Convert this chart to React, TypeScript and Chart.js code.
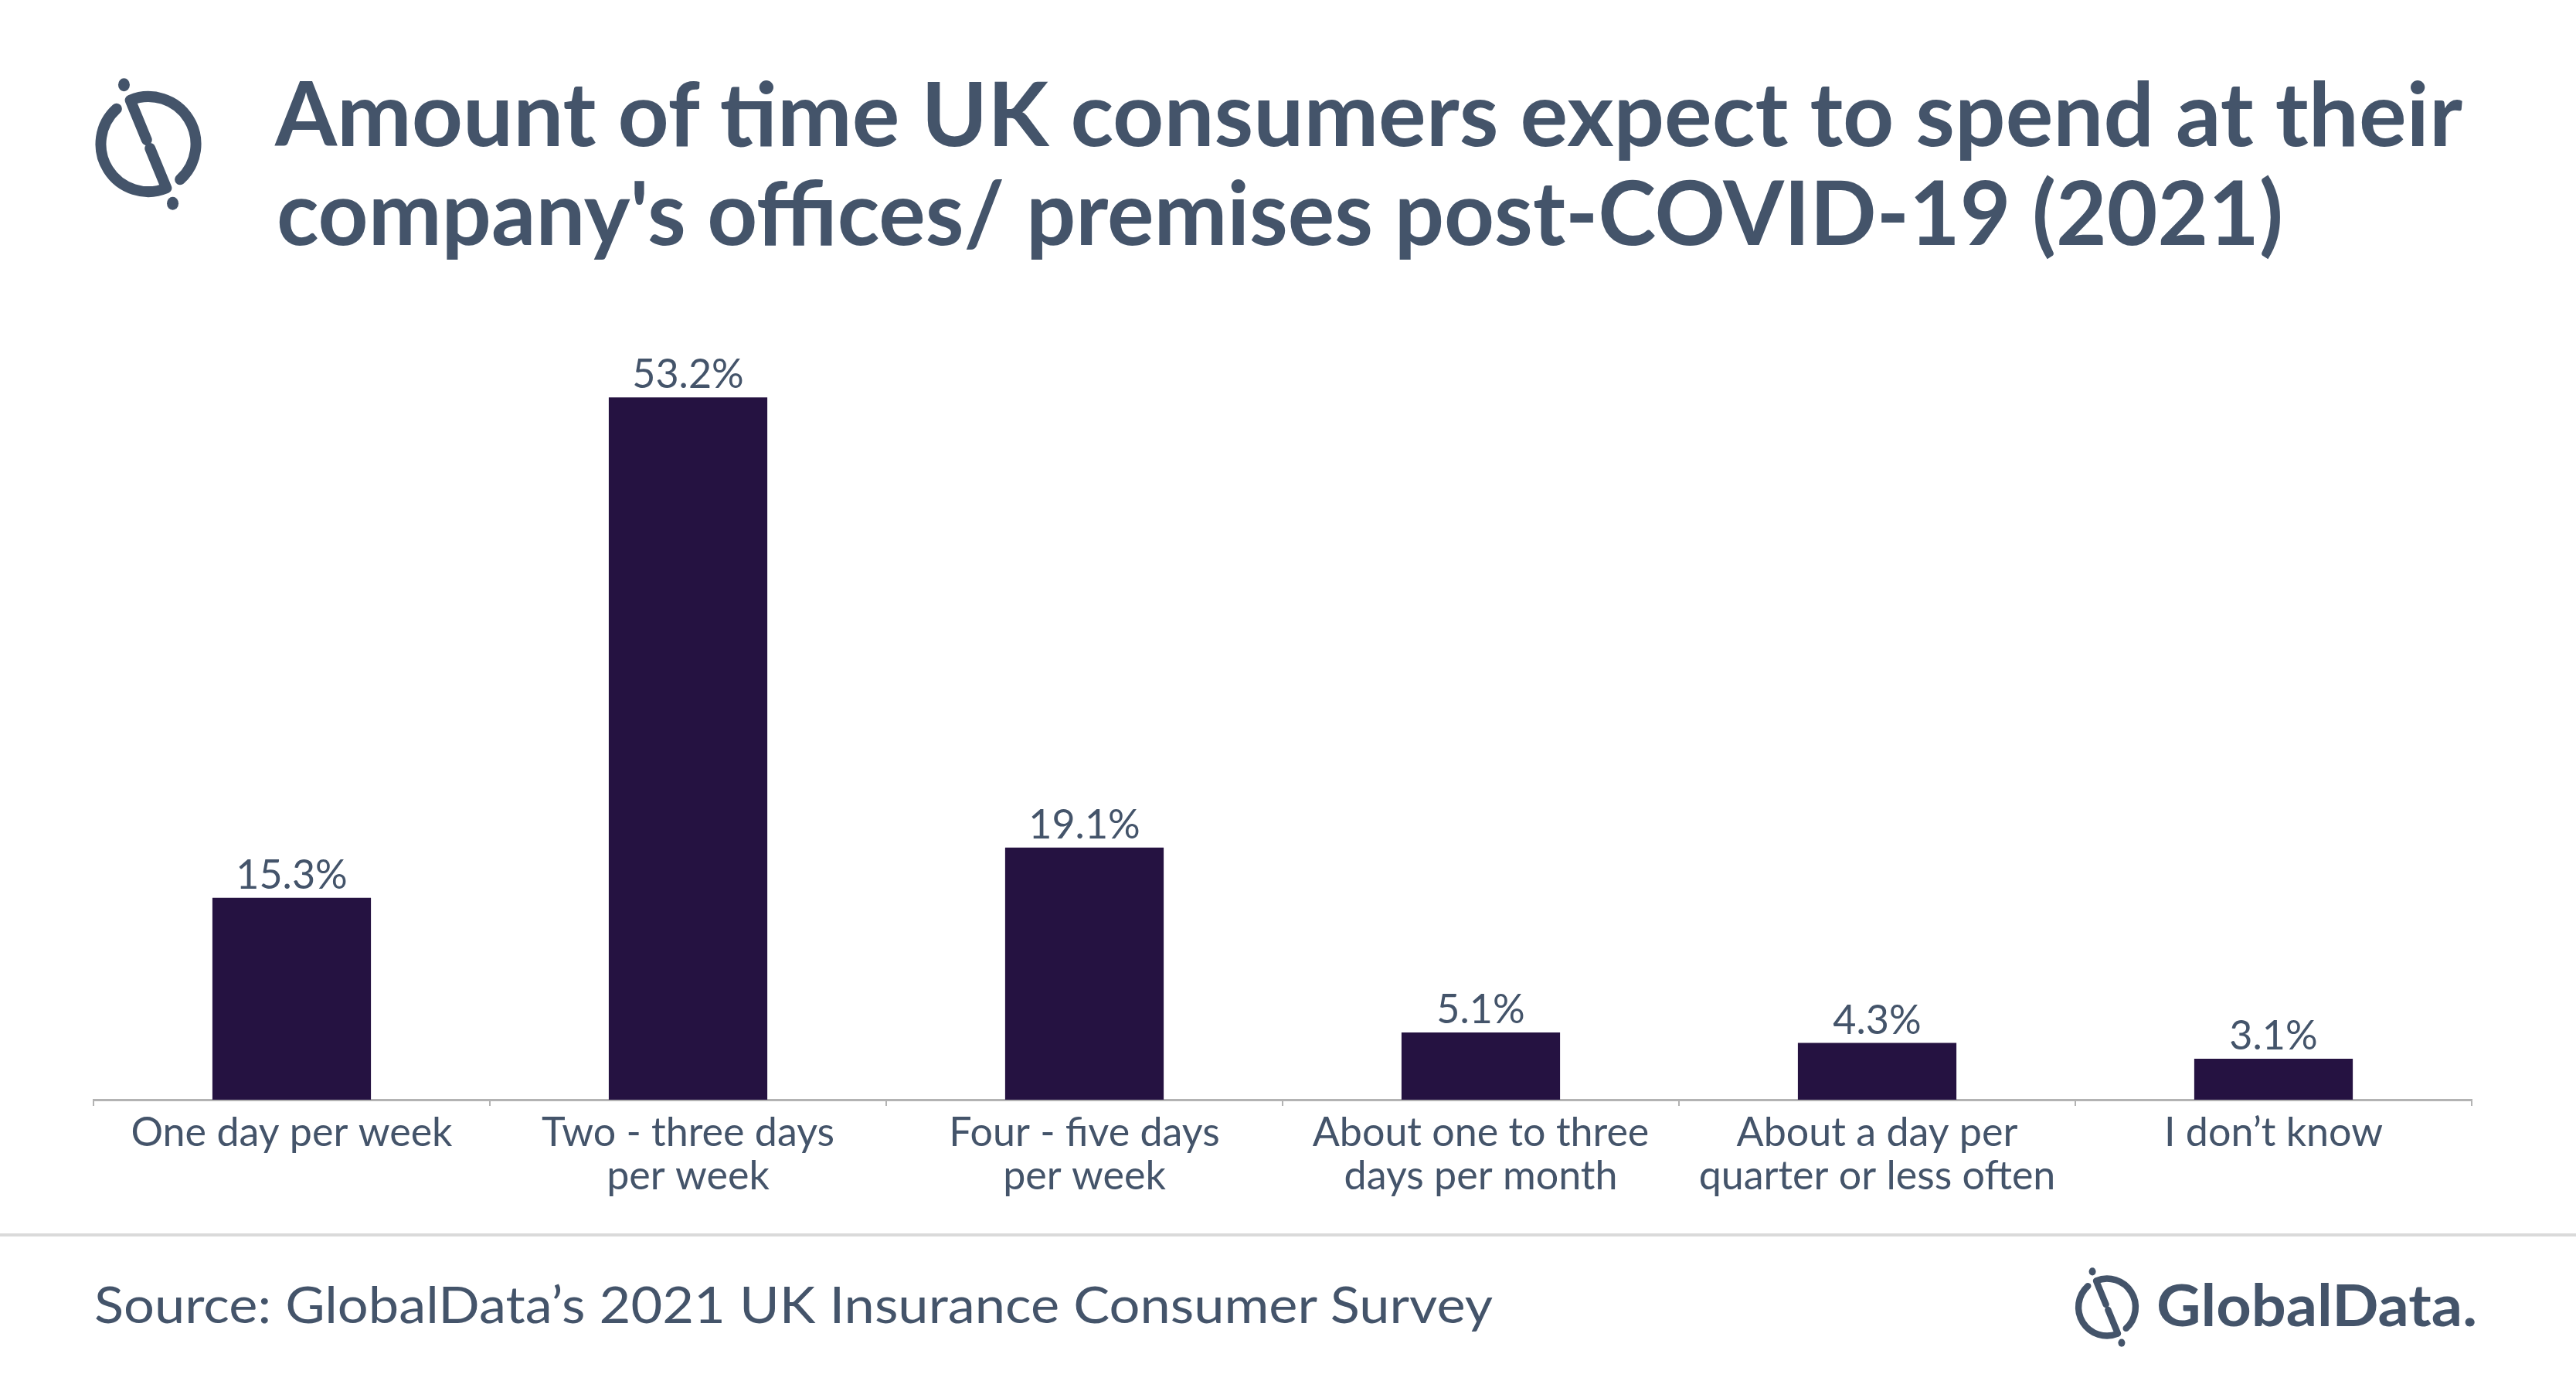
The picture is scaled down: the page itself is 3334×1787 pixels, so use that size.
import React, { useEffect, useRef } from "react";
import { Chart, registerables } from "chart.js";

Chart.register(...registerables);

// ---- data ----
const categories: string[][] = [
  ["One day per week"],
  ["Two - three days", "per week"],
  ["Four - five days", "per week"],
  ["About one to three", "days per month"],
  ["About a day per", "quarter or less often"],
  ["I don\u2019t know"],
];
const values: number[] = [15.3, 53.2, 19.1, 5.1, 4.3, 3.1];
const valueLabels: string[] = values.map((v) => v.toFixed(1) + "%");
const titleLines: string[] = [
  "Amount of time UK consumers expect to spend at their",
  "company's offices/ premises post-COVID-19 (2021)",
];
const sourceText = "Source: GlobalData\u2019s 2021 UK Insurance Consumer Survey";
const logoText = "GlobalData.";
const yMax = 60;

// ---- style ----
const W = 3334;
const H = 1787;
const TEXT = "#44546A";
const BAR = "#251241";
const AXIS = "#B3B3B3";
const FONT = "Lato, 'Open Sans', sans-serif";

const valueLabelPlugin = {
  id: "valueLabels",
  afterDatasetsDraw(chart: any) {
    const { ctx } = chart;
    const meta = chart.getDatasetMeta(0);
    ctx.save();
    ctx.font = `400 52px ${FONT}`;
    ctx.fillStyle = TEXT;
    ctx.textAlign = "center";
    ctx.textBaseline = "alphabetic";
    meta.data.forEach((bar: any, i: number) => {
      ctx.fillText(valueLabels[i], bar.x, bar.y - 12);
    });
    ctx.restore();
  },
};

function Icon({ cx, cy, s }: { cx: number; cy: number; s: number }) {
  const R = 61.5;
  const ux = -0.38;
  const uy = -0.925;
  const a = (48 * Math.PI) / 180;
  const ex = R * Math.cos(a);
  const ey = R * Math.sin(a);
  const g = 6;
  const upper = `M ${ux * g} ${uy * g} L ${ux * R} ${uy * R} A ${R} ${R} 0 0 1 ${ex} ${ey}`;
  const lower = `M ${-ux * g} ${-uy * g} L ${-ux * R} ${-uy * R} A ${R} ${R} 0 0 1 ${-ex} ${-ey}`;
  return (
    <g transform={`translate(${cx} ${cy}) scale(${s})`}>
      <path d={upper} fill="none" stroke={TEXT} strokeWidth={14} strokeLinecap="round" strokeLinejoin="round" />
      <path d={lower} fill="none" stroke={TEXT} strokeWidth={14} strokeLinecap="round" strokeLinejoin="round" />
      <ellipse cx={ux * 83} cy={uy * 83} rx={7.5} ry={8.5} fill={TEXT} />
      <ellipse cx={-ux * 83} cy={-uy * 83} rx={7.5} ry={8.5} fill={TEXT} />
    </g>
  );
}

export default function App() {
  const canvasRef = useRef<HTMLCanvasElement | null>(null);

  useEffect(() => {
    document.body.style.margin = "0";
    const canvas = canvasRef.current;
    if (!canvas) return;
    const chart = new Chart(canvas, {
      type: "bar",
      data: {
        labels: categories,
        datasets: [
          {
            data: values,
            backgroundColor: BAR,
            borderWidth: 0,
            categoryPercentage: 1,
            barPercentage: 0.4,
          },
        ],
      },
      options: {
        animation: false,
        responsive: true,
        maintainAspectRatio: false,
        devicePixelRatio: 1,
        layout: { padding: { left: 121, right: 135, top: 398, bottom: 0 } },
        plugins: {
          legend: { display: false },
          tooltip: { enabled: false },
          title: { display: false },
        },
        scales: {
          x: {
            offset: true,
            grid: {
              offset: true,
              drawOnChartArea: false,
              drawTicks: true,
              tickLength: 8,
              color: AXIS,
              lineWidth: 2,
            },
            border: { display: true, color: AXIS, width: 3 },
            ticks: {
              color: TEXT,
              font: { family: FONT, size: 52, lineHeight: 56 / 52 },
              padding: 7,
              maxRotation: 0,
              minRotation: 0,
              autoSkip: false,
            },
            afterFit: (scale: any) => {
              scale.height = 173;
            },
          },
          y: {
            display: false,
            min: 0,
            max: yMax,
          },
        },
      },
      plugins: [valueLabelPlugin],
    });
    return () => chart.destroy();
  }, []);

  return (
    <div
      style={{
        position: "fixed",
        left: 0,
        top: 0,
        width: W,
        height: H,
        background: "#ffffff",
        overflow: "hidden",
      }}
    >
      <div style={{ position: "absolute", left: 0, top: 0, width: W, height: 1596 }}>
        <canvas ref={canvasRef} />
      </div>
      <svg
        width={W}
        height={H}
        viewBox={`0 0 ${W} ${H}`}
        style={{ position: "absolute", left: 0, top: 0, pointerEvents: "none" }}
      >
        <Icon cx={192} cy={186.5} s={1} />
        <text
          x={356}
          y={189}
          fill={TEXT}
          fontFamily={FONT}
          fontWeight={700}
          fontSize={114}
          textLength={2831}
          lengthAdjust="spacingAndGlyphs"
        >
          {titleLines[0]}
        </text>
        <text
          x={358}
          y={317}
          fill={TEXT}
          fontFamily={FONT}
          fontWeight={700}
          fontSize={114}
          textLength={2597}
          lengthAdjust="spacingAndGlyphs"
        >
          {titleLines[1]}
        </text>
        <rect x={0} y={1596} width={W} height={4} fill="#DADADA" />
        <text
          x={122}
          y={1712}
          fill={TEXT}
          fontFamily={FONT}
          fontWeight={400}
          fontSize={65}
          textLength={1810}
          lengthAdjust="spacingAndGlyphs"
        >
          {sourceText}
        </text>
        <Icon cx={2727} cy={1691.5} s={0.6} />
        <text
          x={2791}
          y={1716}
          fill={TEXT}
          fontFamily={FONT}
          fontWeight={700}
          fontSize={74}
          textLength={415}
          lengthAdjust="spacingAndGlyphs"
        >
          {logoText}
        </text>
      </svg>
    </div>
  );
}
